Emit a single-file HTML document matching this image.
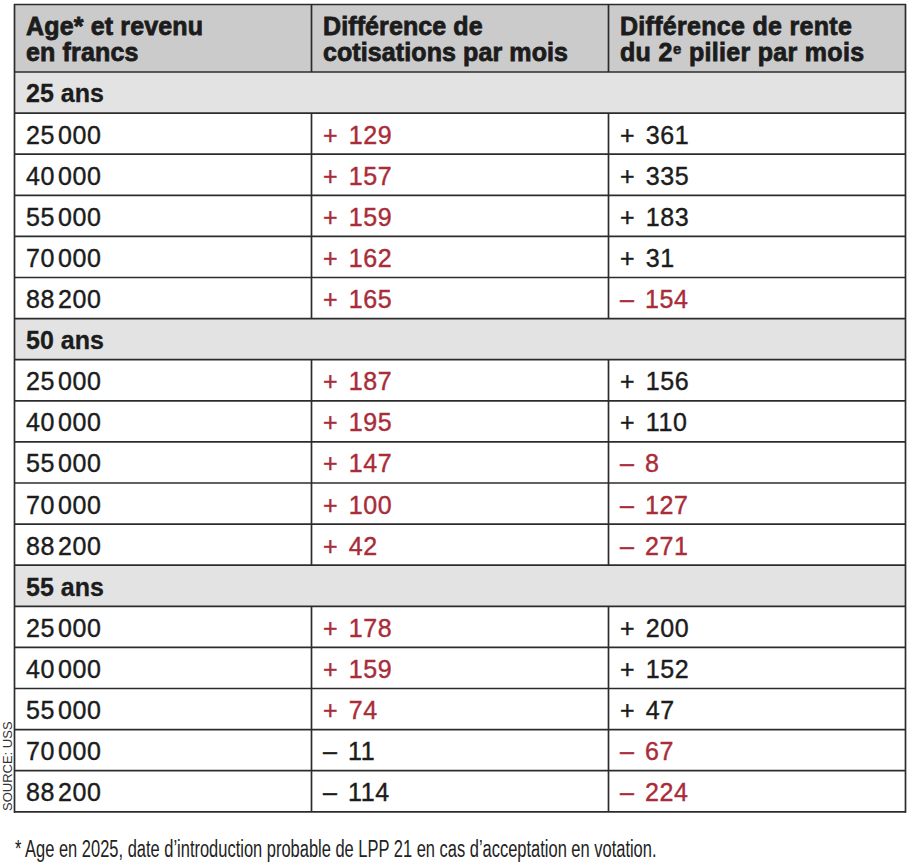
<!DOCTYPE html>
<html><head><meta charset="utf-8"><style>
html,body{margin:0;padding:0;background:#fff;width:907px;height:863px;overflow:hidden;position:relative}
.hb{position:absolute;left:14px;top:4px;width:891px;height:68.0px;background:#cbcbcb}
.sb{position:absolute;left:14px;width:891px;background:#e3e3e3}
.t{position:absolute;font-family:"Liberation Sans",sans-serif;font-size:25px;line-height:28px;color:#1c1c1c;white-space:nowrap;letter-spacing:0.6px;word-spacing:3px;-webkit-text-stroke:0.4px currentColor}
.b{font-weight:bold;-webkit-text-stroke:0.3px currentColor;letter-spacing:0;word-spacing:0}
.r{color:#a92c39}
.th{display:inline-block;width:3px}
.h{position:absolute;font-family:"Liberation Sans",sans-serif;font-size:25px;font-weight:bold;line-height:26px;color:#1c1c1c;white-space:nowrap;-webkit-text-stroke:0.8px currentColor;letter-spacing:0.3px}
.h sup{font-size:15px;vertical-align:0;position:relative;top:-7.5px;margin-left:0.5px;-webkit-text-stroke:0.5px currentColor}
svg{position:absolute;left:0;top:0}
svg line{stroke:#2c2c2c;stroke-width:1.7}
.src{position:absolute;left:0;top:0;font-family:"Liberation Sans",sans-serif;font-size:13px;color:#333;white-space:nowrap;transform-origin:0 0;}
.fn{position:absolute;left:15px;top:0;font-family:"Liberation Sans",sans-serif;font-size:23px;line-height:26px;color:#222;white-space:nowrap;transform-origin:0 0;}
</style></head><body>
<div class="hb"></div>
<div class="sb" style="top:72.0px;height:41.1px"></div><div class="sb" style="top:318.6px;height:41.1px"></div><div class="sb" style="top:565.2px;height:41.1px"></div>
<div class="h" style="left:26px;top:13px;letter-spacing:0.15px">Age* et revenu<br>en francs</div>
<div class="h" style="left:323px;top:13px;letter-spacing:0.1px">Différence de<br>cotisations par mois</div>
<div class="h" style="left:620px;top:13px">Différence de rente<br>du 2<sup>e</sup> pilier par mois</div>
<div class="t b" style="left:26px;top:79.4px">25 ans</div><div class="t" style="left:26px;top:120.6px">25<span class="th"></span>000</div><div class="t r" style="left:323px;top:120.6px">+ 129</div><div class="t" style="left:620px;top:120.6px">+ 361</div><div class="t" style="left:26px;top:161.7px">40<span class="th"></span>000</div><div class="t r" style="left:323px;top:161.7px">+ 157</div><div class="t" style="left:620px;top:161.7px">+ 335</div><div class="t" style="left:26px;top:202.8px">55<span class="th"></span>000</div><div class="t r" style="left:323px;top:202.8px">+ 159</div><div class="t" style="left:620px;top:202.8px">+ 183</div><div class="t" style="left:26px;top:243.9px">70<span class="th"></span>000</div><div class="t r" style="left:323px;top:243.9px">+ 162</div><div class="t" style="left:620px;top:243.9px">+ 31</div><div class="t" style="left:26px;top:285.0px">88<span class="th"></span>200</div><div class="t r" style="left:323px;top:285.0px">+ 165</div><div class="t r" style="left:620px;top:285.0px">– 154</div><div class="t b" style="left:26px;top:326.0px">50 ans</div><div class="t" style="left:26px;top:367.2px">25<span class="th"></span>000</div><div class="t r" style="left:323px;top:367.2px">+ 187</div><div class="t" style="left:620px;top:367.2px">+ 156</div><div class="t" style="left:26px;top:408.3px">40<span class="th"></span>000</div><div class="t r" style="left:323px;top:408.3px">+ 195</div><div class="t" style="left:620px;top:408.3px">+ 110</div><div class="t" style="left:26px;top:449.4px">55<span class="th"></span>000</div><div class="t r" style="left:323px;top:449.4px">+ 147</div><div class="t r" style="left:620px;top:449.4px">– 8</div><div class="t" style="left:26px;top:490.5px">70<span class="th"></span>000</div><div class="t r" style="left:323px;top:490.5px">+ 100</div><div class="t r" style="left:620px;top:490.5px">– 127</div><div class="t" style="left:26px;top:531.6px">88<span class="th"></span>200</div><div class="t r" style="left:323px;top:531.6px">+ 42</div><div class="t r" style="left:620px;top:531.6px">– 271</div><div class="t b" style="left:26px;top:572.6px">55 ans</div><div class="t" style="left:26px;top:613.8px">25<span class="th"></span>000</div><div class="t r" style="left:323px;top:613.8px">+ 178</div><div class="t" style="left:620px;top:613.8px">+ 200</div><div class="t" style="left:26px;top:654.9px">40<span class="th"></span>000</div><div class="t r" style="left:323px;top:654.9px">+ 159</div><div class="t" style="left:620px;top:654.9px">+ 152</div><div class="t" style="left:26px;top:696.0px">55<span class="th"></span>000</div><div class="t r" style="left:323px;top:696.0px">+ 74</div><div class="t" style="left:620px;top:696.0px">+ 47</div><div class="t" style="left:26px;top:737.1px">70<span class="th"></span>000</div><div class="t" style="left:323px;top:737.1px">– 11</div><div class="t r" style="left:620px;top:737.1px">– 67</div><div class="t" style="left:26px;top:778.2px">88<span class="th"></span>200</div><div class="t" style="left:323px;top:778.2px">– 114</div><div class="t r" style="left:620px;top:778.2px">– 224</div>
<svg width="907" height="863"><line x1="14" y1="72.00" x2="906" y2="72.00"/><line x1="14" y1="113.10" x2="906" y2="113.10"/><line x1="14" y1="154.20" x2="906" y2="154.20"/><line x1="14" y1="195.30" x2="906" y2="195.30"/><line x1="14" y1="236.40" x2="906" y2="236.40"/><line x1="14" y1="277.50" x2="906" y2="277.50"/><line x1="14" y1="318.60" x2="906" y2="318.60"/><line x1="14" y1="359.70" x2="906" y2="359.70"/><line x1="14" y1="400.80" x2="906" y2="400.80"/><line x1="14" y1="441.90" x2="906" y2="441.90"/><line x1="14" y1="483.00" x2="906" y2="483.00"/><line x1="14" y1="524.10" x2="906" y2="524.10"/><line x1="14" y1="565.20" x2="906" y2="565.20"/><line x1="14" y1="606.30" x2="906" y2="606.30"/><line x1="14" y1="647.40" x2="906" y2="647.40"/><line x1="14" y1="688.50" x2="906" y2="688.50"/><line x1="14" y1="729.60" x2="906" y2="729.60"/><line x1="14" y1="770.70" x2="906" y2="770.70"/><line x1="14" y1="811.80" x2="906" y2="811.80"/><line x1="14" y1="4.5" x2="906" y2="4.5"/><line x1="14.5" y1="4" x2="14.5" y2="812.80"/><line x1="905.5" y1="4" x2="905.5" y2="812.80"/><line x1="311.5" y1="4.00" x2="311.5" y2="72.00"/><line x1="608.5" y1="4.00" x2="608.5" y2="72.00"/><line x1="311.5" y1="113.10" x2="311.5" y2="154.20"/><line x1="608.5" y1="113.10" x2="608.5" y2="154.20"/><line x1="311.5" y1="154.20" x2="311.5" y2="195.30"/><line x1="608.5" y1="154.20" x2="608.5" y2="195.30"/><line x1="311.5" y1="195.30" x2="311.5" y2="236.40"/><line x1="608.5" y1="195.30" x2="608.5" y2="236.40"/><line x1="311.5" y1="236.40" x2="311.5" y2="277.50"/><line x1="608.5" y1="236.40" x2="608.5" y2="277.50"/><line x1="311.5" y1="277.50" x2="311.5" y2="318.60"/><line x1="608.5" y1="277.50" x2="608.5" y2="318.60"/><line x1="311.5" y1="359.70" x2="311.5" y2="400.80"/><line x1="608.5" y1="359.70" x2="608.5" y2="400.80"/><line x1="311.5" y1="400.80" x2="311.5" y2="441.90"/><line x1="608.5" y1="400.80" x2="608.5" y2="441.90"/><line x1="311.5" y1="441.90" x2="311.5" y2="483.00"/><line x1="608.5" y1="441.90" x2="608.5" y2="483.00"/><line x1="311.5" y1="483.00" x2="311.5" y2="524.10"/><line x1="608.5" y1="483.00" x2="608.5" y2="524.10"/><line x1="311.5" y1="524.10" x2="311.5" y2="565.20"/><line x1="608.5" y1="524.10" x2="608.5" y2="565.20"/><line x1="311.5" y1="606.30" x2="311.5" y2="647.40"/><line x1="608.5" y1="606.30" x2="608.5" y2="647.40"/><line x1="311.5" y1="647.40" x2="311.5" y2="688.50"/><line x1="608.5" y1="647.40" x2="608.5" y2="688.50"/><line x1="311.5" y1="688.50" x2="311.5" y2="729.60"/><line x1="608.5" y1="688.50" x2="608.5" y2="729.60"/><line x1="311.5" y1="729.60" x2="311.5" y2="770.70"/><line x1="608.5" y1="729.60" x2="608.5" y2="770.70"/><line x1="311.5" y1="770.70" x2="311.5" y2="811.80"/><line x1="608.5" y1="770.70" x2="608.5" y2="811.80"/></svg>
<div class="src" style="transform:translate(0px,811px) rotate(-90deg)">SOURCE: USS</div>
<div class="fn" style="top:835.5px;transform:scaleX(0.716)">* Age en 2025, date d’introduction probable de LPP 21 en cas d’acceptation en votation.</div>
</body></html>
